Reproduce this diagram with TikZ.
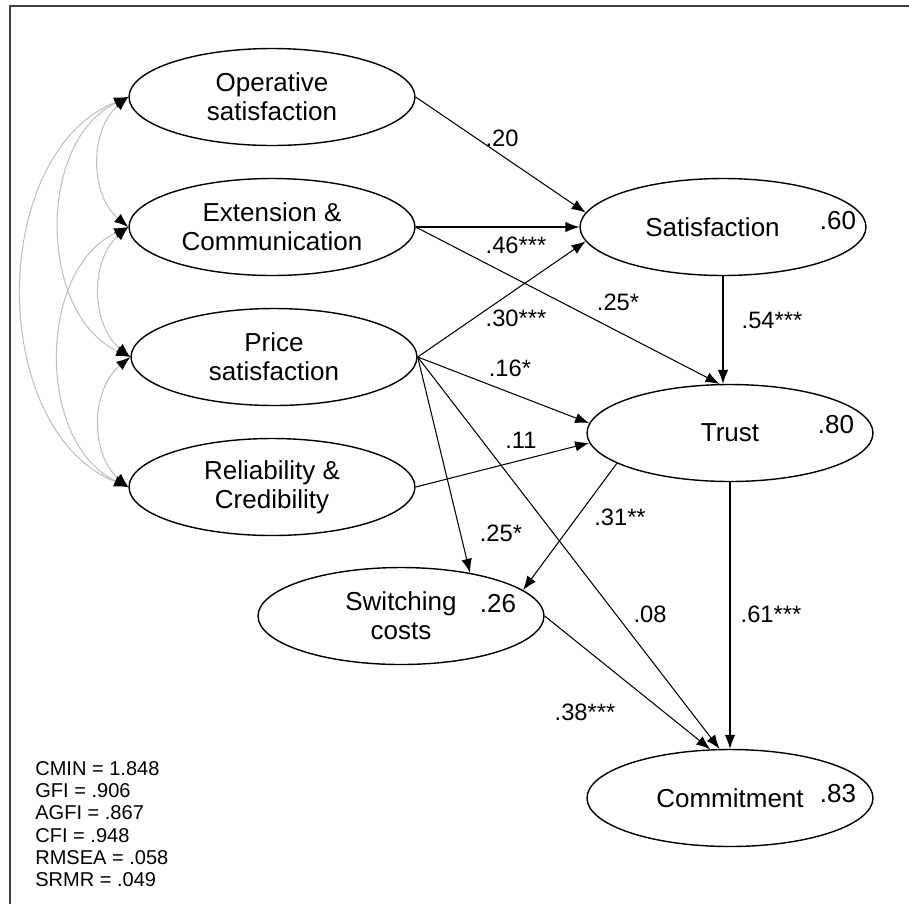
\documentclass[tikz,border=0pt]{standalone}
\usepackage{fontspec}
\setmainfont{Liberation Sans}
\usetikzlibrary{arrows.meta,shapes.geometric}

\begin{document}
\begin{tikzpicture}[
  x=0.02cm, y=-0.02cm,
  latent/.style={ellipse, draw, line width=0.8pt, minimum width=5.72cm, minimum height=1.94cm,
    inner sep=0pt, align=center, font=\fontsize{14.8}{16.6}\selectfont},
  effect/.style={-{Latex[length=8pt,width=6pt]}, line width=0.6pt},
  corr/.style={{Latex[length=8pt,width=6pt,black]}-{Latex[length=8pt,width=6pt,black]},
    gray!50, line width=0.6pt},
  coef/.style={font=\fontsize{13.5}{15}\selectfont, inner sep=1pt},
  rsq/.style={font=\fontsize{14.8}{16.6}\selectfont, inner sep=1pt}
]
  \useasboundingbox (0,0) rectangle (909,904);
  \draw[line width=1.2pt, black!75] (10,904) -- (10,6) -- (909,6);

  % exogenous constructs
  \node[latent] (oper)  at (272,97)  {Operative\\satisfaction};
  \node[latent] (ext)   at (272,227) {Extension \&\\Communication};
  \node[latent] (price) at (274,357) {Price\\satisfaction};
  \node[latent] (rel)   at (272,487) {Reliability \&\\Credibility};

  % endogenous constructs
  \node[latent] (sat)    at (723,227) {Satisfaction\hspace{12pt}};
  \node[latent] (trust)  at (730,433) {Trust};
  \node[latent] (switch) at (401,616) {Switching\\costs};
  \node[latent] (commit) at (730,798) {Commitment};

  \node[rsq] (r2sat)    at (838,221) {.60};
  \node[rsq] (r2trust)  at (836,425) {.80};
  \node[rsq] (r2switch) at (498,604) {.26};
  \node[rsq] (r2commit) at (838,794) {.83};

  % correlations
  \draw[corr] (oper.west) to[bend right=50] (ext.west);
  \draw[corr] (ext.west) to[bend right=50] (price.west);
  \draw[corr] (price.west) to[bend right=50] (rel.west);
  \draw[corr] (oper.west) to[bend right=65] (price.west);
  \draw[corr] (ext.west) to[bend right=65] (rel.west);
  \draw[corr] (oper.west) to[bend right=68] (rel.west);

  % paths
  \draw[effect] (oper.east) -- (sat.174);
  \draw[effect] (ext.east) -- (sat.west);
  \draw[effect] (price.east) -- (sat.186);
  \draw[effect] (ext.east) -- (trust.102);
  \draw[effect] (sat.south) -- (sat.south |- trust.north);
  \draw[effect] (price.east) -- (trust.176);
  \draw[effect] (rel.east) -- (trust.184);
  \draw[effect] (price.east) -- (switch.32);
  \draw[effect] (trust.195) -- (switch.12);
  \draw[effect] (price.east) -- (commit.102);
  \draw[effect] (trust.south) -- (commit.north);
  \draw[effect] (switch.east) -- (commit.112);

  % coefficients
  \node[coef] (c1)  at (502,138) {.20};
  \node[coef] (c2)  at (516,245) {.46***};
  \node[coef] (c3)  at (516,318) {.30***};
  \node[coef] (c4)  at (618,302) {.25*};
  \node[coef] (c5)  at (772,320) {.54***};
  \node[coef] (c6)  at (510,368) {.16*};
  \node[coef] (c7)  at (521,440) {.11};
  \node[coef] (c8)  at (501,533) {.25*};
  \node[coef] (c9)  at (620,517) {.31**};
  \node[coef] (c10) at (650,614) {.08};
  \node[coef] (c11) at (771,614) {.61***};
  \node[coef] (c12) at (585,712) {.38***};

  % fit indices
  \node[anchor=north west, inner sep=0pt, align=left, font=\fontsize{11.4}{12.7}\selectfont]
    (fit) at (35,761) {CMIN = 1.848\\GFI = .906\\AGFI = .867\\CFI = .948\\RMSEA = .058\\SRMR = .049};
\end{tikzpicture}
\end{document}
